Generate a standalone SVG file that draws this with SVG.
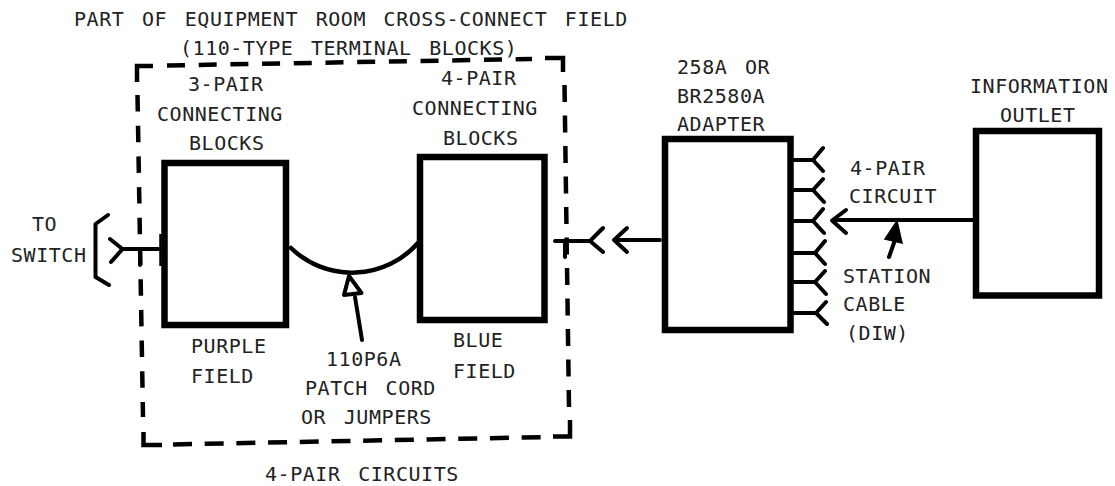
<svg xmlns="http://www.w3.org/2000/svg" width="1115" height="486" viewBox="0 0 1115 486">
<style>
text{font-family:"DejaVu Sans Mono",monospace;font-size:20px;letter-spacing:.55px;word-spacing:5px;fill:#222}
.box{fill:none;stroke:#000;stroke-width:6.5}
.line{fill:none;stroke:#000;stroke-width:4;stroke-linecap:round;stroke-linejoin:round}
.tip{fill:#fff;stroke:#000;stroke-width:4;stroke-linejoin:round}
.dash{fill:none;stroke:#000;stroke-width:4.5;stroke-linecap:butt}
</style>
<rect width="1115" height="486" fill="#fff"/>
<g id="title"><text x="74" y="26">PART OF EQUIPMENT ROOM CROSS-CONNECT FIELD</text><text x="180" y="55">(110-TYPE TERMINAL BLOCKS)</text></g>
<g id="field">
<path class="dash" stroke-dasharray="18 13.7" d="M167 65.500 L532 59"/>
<path class="dash" stroke-dasharray="16.500 14.200" d="M137.500 95 L143 417"/>
<path class="dash" stroke-dasharray="17 13.500" d="M564.500 85 L569 408"/>
<path class="dash" stroke-dasharray="19 12.700" d="M173 444.400 L553 437"/>
<path class="dash" d="M153 66 H137 V82"/><path class="dash" d="M545 58 H563 V72"/><path class="dash" d="M143.500 432 V445 H162"/><path class="dash" d="M553 436.500 H570 V420"/>
</g>
<g id="block3"><rect class="box" x="164.500" y="163" width="121.500" height="162"/><text x="188" y="91">3-PAIR</text><text x="157" y="121">CONNECTING</text><text x="189" y="150">BLOCKS</text><text x="191" y="353">PURPLE</text><text x="191" y="383">FIELD</text></g>
<g id="block4"><rect class="box" x="420" y="157" width="124.500" height="163"/><text x="412" y="115">CONNECTING</text><text x="441" y="85">4-PAIR</text><text x="443" y="145">BLOCKS</text><text x="453" y="347">BLUE</text><text x="453" y="378">FIELD</text></g>
<g id="adapter"><rect class="box" x="665" y="139" width="125.500" height="191"/><text x="677" y="74">258A OR</text><text x="677" y="103">BR2580A</text><text x="677" y="131">ADAPTER</text></g>
<g id="outlet"><rect class="box" x="976" y="131" width="123" height="164.500"/><text x="970" y="93">INFORMATION</text><text x="1000" y="122">OUTLET</text></g>
<g id="labels"><text x="32" y="231">TO</text><text x="11" y="262">SWITCH</text><text x="850" y="175">4-PAIR</text><text x="849" y="203">CIRCUIT</text><text x="843" y="283">STATION</text><text x="843" y="311">CABLE</text><text x="846" y="340">(DIW)</text><text x="326" y="366">110P6A</text><text x="305" y="395">PATCH CORD</text><text x="301" y="424">OR JUMPERS</text><text x="265" y="481">4-PAIR CIRCUITS</text></g>
<g id="connectors">
<path class="line" d="M108 215 L95.500 224 V277 L109 285"/>
<path class="line" d="M110 239 L122.500 249 L111 262 M122.500 249 H162"/>
<path d="M160.500 234 V266" stroke="#000" stroke-width="2.500"/>
<path class="line" d="M140 250 V265"/>
<path class="line" d="M291 248 A88 88 0 0 0 418 243" style="stroke-width:4.500"/>
<path class="line" d="M355 297 L362 340"/><path class="tip" d="M349 276 L344 295 L361.500 293Z"/>
<path class="line" d="M555 241 H590 M603 228 L590 241 L603 252 M565 241 V257"/>
<path class="line" d="M660 240 H615 M627 228 L614 240 L627 252"/>
<path class="line" d="M792 160 H813 M823 148 L813 160 L823 171 M792 190 H813 M823 179 L813 190 L824 202 M792 221 H813 M823 209 L813 221 L824 233 M792 253 H814 M825 241 L815 253 L825 264 M792 282 H815 M825 271 L815 282 L826 294 M792 313 H815 M826 302 L816 313 L827 324"/>
<path class="line" d="M975 220 H833 M846 210 L832 220.500 L846 233"/>
<path class="line" d="M889 257 L895 240"/><path d="M897 221 L885 239 L902 243Z" fill="#000" stroke="#000" stroke-width="1.500"/>
</g>
</svg>
